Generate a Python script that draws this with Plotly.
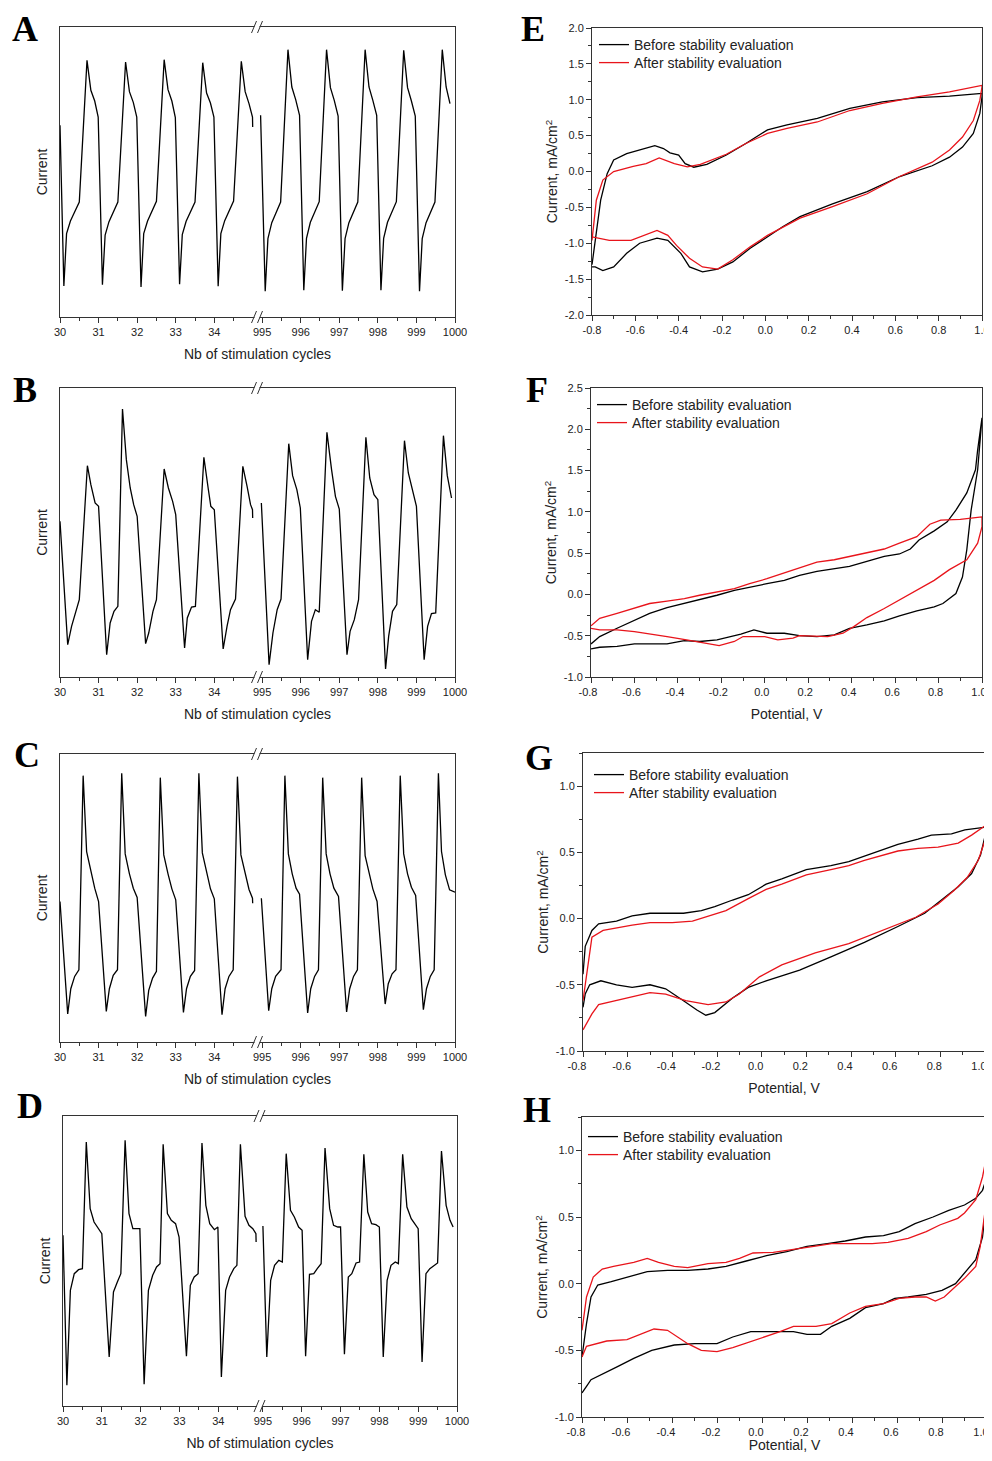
import plotly.graph_objects as go

W, H = 992, 1461          # reference picture size
OFF = 8                   # page body margin of the html page
FW, FH = W - OFF, H - 2 * OFF

# ---------------- stimulation traces (A-D) ----------------
a_cycle = [30.00, 30.03,
    30.10, 30.17, 30.27, 30.37, 30.50, 30.70, 30.80, 30.90, 30.99,
    31.10, 31.17, 31.27, 31.37, 31.50, 31.70, 31.80, 31.90, 31.99,
    32.10, 32.17, 32.27, 32.37, 32.50, 32.70, 32.80, 32.90, 32.99,
    33.10, 33.17, 33.27, 33.37, 33.50, 33.70, 33.80, 33.90, 33.99,
    34.10, 34.17, 34.27, 34.37, 34.50, 34.70, 34.80, 34.90, 34.99, 34.995,
    None,
    994.96,
    995.08, 995.15, 995.25, 995.35, 995.48, 995.67, 995.77, 995.87, 995.97,
    996.08, 996.15, 996.25, 996.35, 996.48, 996.67, 996.77, 996.87, 996.97,
    997.08, 997.15, 997.25, 997.35, 997.48, 997.67, 997.77, 997.87, 997.97,
    998.08, 998.15, 998.25, 998.35, 998.48, 998.67, 998.77, 998.87, 998.97,
    999.08, 999.15, 999.25, 999.35, 999.48, 999.67, 999.77, 999.87]
a_current = [575, 430,
    93, 250, 288, 313, 345, 770, 680, 648, 600,
    97, 246, 286, 312, 345, 765, 676, 644, 600,
    90, 250, 288, 314, 347, 772, 682, 648, 598,
    98, 247, 287, 312, 345, 763, 672, 642, 600,
    92, 250, 289, 315, 348, 767, 676, 640, 600, 570,
    None,
    605,
    77, 235, 283, 310, 345, 802, 690, 652, 605,
    80, 236, 284, 311, 346, 802, 688, 650, 603,
    79, 235, 283, 312, 345, 802, 690, 650, 605,
    80, 236, 284, 311, 346, 800, 688, 648, 603,
    77, 235, 283, 310, 345, 802, 690, 640]

b_cycle = [30.00,
    30.20, 30.30, 30.41, 30.50, 30.71, 30.80, 30.91, 31.00,
    31.21, 31.30, 31.40, 31.50, 31.62, 31.72, 31.82, 31.91, 32.00,
    32.22, 32.30, 32.41, 32.50, 32.70, 32.81, 32.92, 33.00,
    33.23, 33.30, 33.41, 33.51, 33.73, 33.84, 33.91, 34.00,
    34.23, 34.33, 34.42, 34.55, 34.74, 34.85, 34.94, 34.99, 34.995,
    None,
    994.98,
    995.18, 995.28, 995.39, 995.49, 995.69, 995.79, 995.90, 995.99,
    996.18, 996.28, 996.38, 996.48, 996.68, 996.80, 996.90, 997.00,
    997.20, 997.28, 997.39, 997.50, 997.69, 997.79, 997.90, 998.00,
    998.20, 998.28, 998.38, 998.49, 998.69, 998.79, 998.90, 999.00,
    999.20, 999.29, 999.39, 999.50, 999.70, 999.80, 999.91]
b_current = [467,
    97, 152, 192, 232, 634, 577, 522, 512,
    67, 162, 197, 212, 804, 652, 567, 517, 482,
    100, 132, 197, 232, 624, 567, 527, 487,
    87, 177, 210, 212, 659, 567, 512, 502,
    84, 152, 202, 234, 632, 572, 517, 502, 477,
    None,
    522,
    37, 132, 202, 234, 700, 604, 562, 507,
    52, 167, 202, 194, 734, 622, 542, 504,
    67, 137, 172, 232, 719, 597, 547, 532,
    24, 122, 197, 217, 709, 612, 562, 512,
    52, 152, 190, 192, 724, 604, 537]

c_cycle = [30.00,
    30.20, 30.28, 30.38, 30.49, 30.60, 30.69, 30.80, 30.90, 31.00,
    31.20, 31.28, 31.38, 31.49, 31.60, 31.69, 31.80, 31.90, 32.00,
    32.22, 32.30, 32.40, 32.50, 32.60, 32.69, 32.80, 32.90, 33.00,
    33.20, 33.28, 33.38, 33.49, 33.60, 33.69, 33.80, 33.90, 34.00,
    34.20, 34.28, 34.38, 34.49, 34.60, 34.69, 34.80, 34.90, 34.99, 34.995,
    None,
    994.98,
    995.17, 995.25, 995.35, 995.49, 995.59, 995.68, 995.78, 995.88, 995.97,
    996.18, 996.26, 996.36, 996.46, 996.57, 996.66, 996.76, 996.86, 996.98,
    997.19, 997.27, 997.37, 997.47, 997.58, 997.67, 997.77, 997.87, 997.98,
    998.19, 998.27, 998.37, 998.47, 998.58, 998.67, 998.77, 998.87, 998.98,
    999.18, 999.26, 999.36, 999.46, 999.57, 999.65, 999.75, 999.86, 1000.00]
c_current = [422,
    84, 160, 197, 217, 800, 572, 515, 462, 422,
    92, 160, 200, 217, 807, 565, 505, 462, 434,
    77, 155, 192, 212, 794, 562, 505, 460, 427,
    89, 160, 197, 215, 807, 568, 508, 460, 430,
    82, 160, 197, 217, 797, 562, 505, 458, 432, 417,
    None,
    432,
    94, 160, 197, 217, 800, 565, 505, 462, 444,
    87, 160, 197, 217, 794, 565, 505, 462, 437,
    90, 160, 197, 217, 794, 560, 505, 460, 422,
    114, 175, 205, 217, 800, 565, 505, 465, 440,
    97, 160, 197, 217, 807, 572, 502, 457, 450]

d_cycle = [30.00,
    30.10, 30.19, 30.29, 30.40, 30.50, 30.60, 30.70, 30.80, 30.91, 31.00,
    31.19, 31.30, 31.40, 31.49, 31.60, 31.70, 31.80, 31.98,
    32.09, 32.20, 32.31, 32.41, 32.50, 32.58, 32.69, 32.79, 32.90, 32.99,
    33.18, 33.28, 33.38, 33.48, 33.58, 33.68, 33.78, 33.90, 33.99,
    34.08, 34.19, 34.29, 34.40, 34.48, 34.57, 34.69, 34.79, 34.89, 34.97, 34.975,
    None,
    995.00,
    995.10, 995.20, 995.30, 995.41, 995.50, 995.60, 995.71, 995.81, 995.92, 996.01,
    996.10, 996.20, 996.31, 996.40, 996.50, 996.60, 996.72, 996.82, 996.93, 997.00,
    997.10, 997.20, 997.29, 997.40, 997.49, 997.60, 997.70, 997.80, 997.91, 998.00,
    998.10, 998.20, 998.30, 998.41, 998.49, 998.60, 998.71, 998.82, 998.90, 999.00,
    999.10, 999.20, 999.30, 999.42, 999.50, 999.60, 999.72, 999.82, 999.90]
d_current = [512,
    62, 347, 397, 409, 412, 792, 592, 552, 532, 517,
    147, 342, 372, 397, 797, 577, 532, 532,
    65, 347, 392, 417, 427, 785, 577, 557, 547, 507,
    149, 362, 387, 397, 789, 602, 547, 529, 537,
    87, 347, 387, 412, 422, 785, 569, 542, 532, 517, 492,
    None,
    540,
    147, 377, 422, 437, 432, 757, 587, 567, 537, 527,
    149, 395, 397, 412, 427, 774, 592, 542, 537, 537,
    155, 387, 397, 429, 432, 755, 582, 547, 544, 537,
    147, 377, 422, 432, 427, 755, 597, 562, 547, 532,
    132, 397, 412, 422, 429, 765, 602, 557, 537]

cycle_ticks = [30, 31, 32, 33, 34, 995, 996, 997, 998, 999, 1000]
cycle_minor = [30.5, 31.5, 32.5, 33.5, 34.5, 995.5, 996.5, 997.5, 998.5, 999.5]

# ---------------- cyclic voltammograms (E-H) ----------------
potential_ticks = [-0.8, -0.6, -0.4, -0.2, 0.0, 0.2, 0.4, 0.6, 0.8, 1.0]
e_current_ticks = [-2.0, -1.5, -1.0, -0.5, 0.0, 0.5, 1.0, 1.5, 2.0]
f_current_ticks = [-1.0, -0.5, 0.0, 0.5, 1.0, 1.5, 2.0, 2.5]
gh_current_ticks = [-1.0, -0.5, 0.0, 0.5, 1.0]

e_pot_before = [-0.80, -0.76, -0.73, -0.70, -0.64, -0.58, -0.51, -0.47, -0.44, -0.40, -0.37, -0.33, -0.27, -0.18,
    -0.09, 0.01, 0.10, 0.24, 0.39, 0.54, 0.70, 0.85, 0.99, 1.00,
    1.00, 0.99, 0.96, 0.91, 0.85, 0.77, 0.62, 0.47, 0.31, 0.16, 0.08, 0.01, -0.07, -0.15, -0.22, -0.29,
    -0.35, -0.39, -0.45, -0.50, -0.58, -0.64, -0.70, -0.75, -0.785, -0.80]
e_cur_before = [-1.30, -0.40, -0.03, 0.16, 0.25, 0.30, 0.36, 0.32, 0.26, 0.23, 0.11, 0.06, 0.10, 0.23,
    0.39, 0.58, 0.65, 0.74, 0.88, 0.97, 1.03, 1.05, 1.08, 1.09,
    1.04, 0.81, 0.53, 0.34, 0.20, 0.08, -0.07, -0.28, -0.45, -0.63, -0.77, -0.91, -1.07, -1.26, -1.36, -1.40,
    -1.33, -1.14, -0.96, -0.93, -1.00, -1.14, -1.33, -1.38, -1.33, -1.33]
e_pot_after = [-0.80, -0.78, -0.75, -0.70, -0.61, -0.55, -0.49, -0.42, -0.36, -0.30, -0.18, -0.09, 0.01, 0.10,
    0.24, 0.39, 0.54, 0.70, 0.85, 1.00,
    1.00, 0.99, 0.96, 0.91, 0.85, 0.77, 0.62, 0.47, 0.31, 0.16, 0.01, -0.07, -0.15, -0.22, -0.29, -0.35,
    -0.41, -0.45, -0.50, -0.56, -0.62, -0.72, -0.78, -0.80]
e_cur_after = [-0.96, -0.40, -0.12, 0.00, 0.07, 0.11, 0.19, 0.11, 0.065, 0.10, 0.24, 0.39, 0.53, 0.60,
    0.69, 0.85, 0.95, 1.04, 1.11, 1.20,
    1.18, 0.99, 0.71, 0.48, 0.30, 0.13, -0.07, -0.31, -0.49, -0.65, -0.89, -1.05, -1.23, -1.36, -1.33, -1.21,
    -1.03, -0.89, -0.82, -0.89, -0.96, -0.96, -0.93, -0.91]

f_pot_before = [-0.80, -0.76, -0.68, -0.60, -0.53, -0.45, -0.37, -0.30, -0.22, -0.14, -0.07, 0.01, 0.09, 0.16,
    0.24, 0.32, 0.39, 0.47, 0.55, 0.62, 0.67, 0.71, 0.78, 0.84, 0.88, 0.93, 0.97, 0.98, 1.00,
    0.98, 0.95, 0.93, 0.91, 0.88, 0.82, 0.78, 0.70, 0.62, 0.55, 0.47, 0.39, 0.32, 0.24, 0.16, 0.09, 0.01,
    -0.05, -0.11, -0.22, -0.30, -0.37, -0.45, -0.53, -0.60, -0.68, -0.76, -0.80]
f_cur_before = [-0.60, -0.51, -0.41, -0.31, -0.23, -0.16, -0.11, -0.06, -0.01, 0.05, 0.09, 0.13, 0.17, 0.23,
    0.28, 0.31, 0.34, 0.40, 0.46, 0.49, 0.55, 0.66, 0.77, 0.88, 1.02, 1.23, 1.51, 1.75, 2.14,
    1.51, 1.02, 0.54, 0.21, 0.01, -0.11, -0.15, -0.20, -0.26, -0.32, -0.37, -0.41, -0.49, -0.51, -0.50, -0.47, -0.47,
    -0.43, -0.48, -0.55, -0.57, -0.56, -0.60, -0.60, -0.60, -0.63, -0.64, -0.66]
f_pot_after = [-0.80, -0.76, -0.68, -0.60, -0.53, -0.45, -0.37, -0.30, -0.22, -0.14, -0.07, 0.01, 0.09, 0.16,
    0.24, 0.32, 0.39, 0.47, 0.55, 0.62, 0.70, 0.76, 0.81, 0.90, 1.00,
    1.00, 0.98, 0.93, 0.85, 0.78, 0.70, 0.62, 0.55, 0.47, 0.41, 0.36, 0.29, 0.16, 0.13, 0.06, 0.00,
    -0.10, -0.14, -0.21, -0.27, -0.36, -0.45, -0.53, -0.60, -0.68, -0.76, -0.80]
f_cur_after = [-0.38, -0.29, -0.23, -0.17, -0.11, -0.08, -0.05, -0.01, 0.03, 0.07, 0.13, 0.19, 0.26, 0.32,
    0.39, 0.42, 0.46, 0.51, 0.55, 0.62, 0.70, 0.85, 0.90, 0.91, 0.94,
    0.82, 0.62, 0.42, 0.30, 0.17, 0.05, -0.07, -0.17, -0.28, -0.39, -0.47, -0.51, -0.50, -0.53, -0.55, -0.51,
    -0.51, -0.57, -0.62, -0.59, -0.55, -0.51, -0.48, -0.45, -0.43, -0.43, -0.41]

g_pot_before = [-0.80, -0.79, -0.76, -0.73, -0.65, -0.58, -0.50, -0.44, -0.35, -0.27, -0.21, -0.13, -0.06, 0.02,
    0.09, 0.20, 0.31, 0.39, 0.46, 0.54, 0.61, 0.70, 0.76, 0.85, 0.91, 1.00,
    1.00, 0.98, 0.94, 0.88, 0.80, 0.73, 0.61, 0.46, 0.31, 0.17, 0.02, -0.06, -0.13, -0.21, -0.25, -0.29,
    -0.35, -0.43, -0.50, -0.58, -0.65, -0.72, -0.77, -0.79, -0.80]
g_cur_before = [-0.42, -0.21, -0.09, -0.04, -0.02, 0.02, 0.04, 0.04, 0.04, 0.06, 0.09, 0.14, 0.18, 0.26,
    0.30, 0.37, 0.40, 0.43, 0.47, 0.52, 0.56, 0.60, 0.63, 0.64, 0.67, 0.69,
    0.62, 0.48, 0.34, 0.24, 0.13, 0.04, -0.06, -0.18, -0.29, -0.39, -0.47, -0.52, -0.60, -0.71, -0.73, -0.69,
    -0.62, -0.53, -0.50, -0.52, -0.50, -0.47, -0.50, -0.57, -0.67]
g_pot_after = [-0.80, -0.78, -0.76, -0.71, -0.65, -0.58, -0.50, -0.40, -0.31, -0.25, -0.16, -0.06, 0.02, 0.09,
    0.20, 0.31, 0.39, 0.46, 0.54, 0.61, 0.70, 0.79, 0.88, 0.94, 1.00,
    1.00, 0.97, 0.92, 0.86, 0.79, 0.69, 0.54, 0.39, 0.24, 0.09, -0.01, -0.10, -0.16, -0.24, -0.34, -0.43,
    -0.50, -0.58, -0.65, -0.73, -0.76, -0.80]
g_cur_after = [-0.62, -0.37, -0.14, -0.09, -0.07, -0.05, -0.03, -0.03, -0.02, 0.01, 0.06, 0.15, 0.22, 0.26,
    0.33, 0.37, 0.40, 0.44, 0.48, 0.51, 0.53, 0.54, 0.57, 0.63, 0.70,
    0.59, 0.44, 0.31, 0.21, 0.11, 0.01, -0.09, -0.19, -0.26, -0.35, -0.44, -0.57, -0.63, -0.65, -0.62, -0.57,
    -0.56, -0.59, -0.62, -0.65, -0.72, -0.84]

h_pot_before = [-0.80, -0.78, -0.76, -0.73, -0.67, -0.60, -0.51, -0.42, -0.33, -0.24, -0.16, -0.07, 0.02, 0.11,
    0.20, 0.29, 0.37, 0.46, 0.54, 0.61, 0.68, 0.76, 0.83, 0.90, 0.95, 0.98, 1.00,
    1.00, 0.98, 0.95, 0.90, 0.86, 0.80, 0.73, 0.65, 0.59, 0.54, 0.46, 0.39, 0.31, 0.26, 0.20, 0.14, 0.05,
    -0.05, -0.13, -0.20, -0.30, -0.39, -0.49, -0.57, -0.64, -0.71, -0.76, -0.78, -0.80]
h_cur_before = [-0.55, -0.30, -0.10, -0.01, 0.015, 0.05, 0.09, 0.10, 0.10, 0.11, 0.13, 0.17, 0.21, 0.24,
    0.28, 0.30, 0.32, 0.35, 0.36, 0.39, 0.45, 0.50, 0.55, 0.59, 0.64, 0.70, 0.80,
    0.65, 0.35, 0.18, 0.08, 0.00, -0.05, -0.08, -0.10, -0.11, -0.15, -0.18, -0.26, -0.32, -0.38, -0.38, -0.36, -0.36,
    -0.36, -0.40, -0.45, -0.45, -0.46, -0.50, -0.56, -0.62, -0.68, -0.72, -0.77, -0.82]
h_pot_after = [-0.80, -0.78, -0.75, -0.71, -0.66, -0.57, -0.51, -0.46, -0.39, -0.33, -0.24, -0.16, -0.10, -0.04,
    0.05, 0.14, 0.23, 0.31, 0.40, 0.49, 0.56, 0.65, 0.73, 0.79, 0.87, 0.90, 0.95, 0.98, 1.00,
    1.00, 0.97, 0.95, 0.90, 0.86, 0.81, 0.77, 0.73, 0.68, 0.61, 0.54, 0.46, 0.39, 0.31, 0.24, 0.14, 0.08,
    -0.01, -0.13, -0.20, -0.27, -0.33, -0.42, -0.48, -0.54, -0.60, -0.69, -0.74, -0.78, -0.80]
h_cur_after = [-0.35, -0.10, 0.05, 0.11, 0.13, 0.16, 0.19, 0.16, 0.13, 0.12, 0.15, 0.16, 0.19, 0.23,
    0.235, 0.26, 0.28, 0.30, 0.30, 0.30, 0.31, 0.34, 0.39, 0.44, 0.49, 0.53, 0.63, 0.80, 0.97,
    0.65, 0.28, 0.13, 0.04, -0.02, -0.10, -0.13, -0.10, -0.10, -0.11, -0.15, -0.17, -0.22, -0.30, -0.32, -0.32, -0.36,
    -0.41, -0.48, -0.51, -0.50, -0.45, -0.35, -0.34, -0.38, -0.42, -0.43, -0.45, -0.47, -0.55]

series_names = ["Before stability evaluation", "After stability evaluation"]
panel_letters = ["A", "B", "C", "D", "E", "F", "G", "H"]

# ---------------- layout helpers (reference pixel -> paper) ----------------
SANS = "Liberation Sans, Arial, sans-serif"
INK = "#222222"


def px_x(p):
    return (p - OFF) / FW


def px_y(p):
    return 1 - (p - OFF) / FH


def dx(l, r):
    return [px_x(l), px_x(r)]


def dy(t, b):
    return [px_y(b), px_y(t)]


def brk(vals, gap):
    out = []
    for v in vals:
        if v is None:
            out.append(None)
        elif v < 500:
            out.append(v)
        else:
            out.append(v - 995 + 35 + gap)
    return out


def lbl(vals):
    return [f"{v:.1f}" for v in vals]


fig = go.Figure()

left_specs = [  # (x, y, gap, box l, r, t, b, ymax)
    (a_cycle, a_current, 0.24, 60, 455, 27, 317, 870),
    (b_cycle, b_current, 0.24, 60, 455, 388, 677, 867),
    (c_cycle, c_current, 0.24, 60, 455, 754, 1042, 865),
    (d_cycle, d_current, 0.15, 63, 457, 1116, 1406, 870),
]

shapes = []
for i, (xs, ys, gap, l, r, t, b, ymax) in enumerate(left_specs):
    n = i + 1
    xa = "x" if n == 1 else f"x{n}"
    ya = "y" if n == 1 else f"y{n}"
    fig.add_trace(go.Scatter(x=brk(xs, gap), y=ys, mode="lines",
                             line=dict(color="black", width=1.3),
                             xaxis=xa, yaxis=ya, showlegend=False,
                             connectgaps=False))
    ax_key = "xaxis" if n == 1 else f"xaxis{n}"
    ay_key = "yaxis" if n == 1 else f"yaxis{n}"
    fig.layout[ax_key] = dict(
        domain=dx(l, r), anchor=ya, range=[30, 40 + gap], automargin=False,
        tickmode="array", tickvals=brk(cycle_ticks, gap),
        ticktext=[str(v) for v in cycle_ticks], ticklabeloverflow="allow",
        ticks="outside", ticklen=5, tickwidth=1, tickcolor="#333",
        minor=dict(tickmode="array", tickvals=brk(cycle_minor, gap),
                   ticks="outside", ticklen=3, tickcolor="#333"),
        showline=True, linecolor="#333", linewidth=1, mirror=True,
        showgrid=False, zeroline=False,
        tickfont=dict(family=SANS, size=11, color=INK),
        title=dict(text="Nb of stimulation cycles", standoff=11,
                   font=dict(family=SANS, size=14, color=INK)),
    )
    fig.layout[ay_key] = dict(
        domain=dy(t, b), anchor=xa, range=[0, ymax], automargin=False,
        showticklabels=False, ticks="",
        showline=True, linecolor="#333", linewidth=1, mirror=True,
        showgrid=False, zeroline=False,
        title=dict(text="Current", standoff=8,
                   font=dict(family=SANS, size=14, color=INK)),
    )
    xc = 35 + gap / 2
    for yanc in (0, 1):
        shapes.append(dict(type="rect", xref=xa, yref=f"{ya} domain",
                           xsizemode="pixel", ysizemode="pixel",
                           xanchor=xc, yanchor=yanc,
                           x0=-3, x1=2, y0=-3, y1=3,
                           fillcolor="white", line=dict(width=0), layer="above"))
        for off in (-6, 0):
            shapes.append(dict(type="line", xref=xa, yref=f"{ya} domain",
                               xsizemode="pixel", ysizemode="pixel",
                               xanchor=xc, yanchor=yanc,
                               x0=off, x1=off + 5, y0=-6, y1=6,
                               line=dict(color="#333", width=1), layer="above"))

right_specs = [  # data, box l,r,t,b, y range, y ticks, x title, legend line-start x, legend ys, label shift
    (e_pot_before, e_cur_before, e_pot_after, e_cur_after, 592, 982, 28, 315, [-2, 2], e_current_ticks,
     None, 600, 44, 62, 0),
    (f_pot_before, f_cur_before, f_pot_after, f_cur_after, 591, 982, 388, 677, [-1, 2.5], f_current_ticks,
     "Potential, V", 598, 404, 422, -3),
    (g_pot_before, g_cur_before, g_pot_after, g_cur_after, 583, 985, 753, 1051, [-1, 1.25], gh_current_ticks,
     "Potential, V", 595, 774, 792, -6),
    (h_pot_before, h_cur_before, h_pot_after, h_cur_after, 582, 987, 1117, 1417, [-1, 1.25], gh_current_ticks,
     "Potential, V", 589, 1136, 1154, -6),
]

leg_count = 0
for j, spec in enumerate(right_specs):
    (xb, yb, xa_, ya_, l, r, t, b, yr, yticks, xtitle, lgx, ty1, ty2, shift) = spec
    n = j + 5
    xa = f"x{n}"
    ya = f"y{n}"
    for (xs, ys, name, color, ty) in ((xb, yb, series_names[0], "black", ty1),
                                      (xa_, ya_, series_names[1], "#e8141b", ty2)):
        leg_count += 1
        leg = "legend" if leg_count == 1 else f"legend{leg_count}"
        fig.add_trace(go.Scatter(x=xs, y=ys, mode="lines", name=name,
                                 line=dict(color=color, width=1.3),
                                 xaxis=xa, yaxis=ya, legend=leg))
        fig.layout[leg] = dict(
            x=px_x(lgx - 6), y=px_y(ty - 15), xanchor="left", yanchor="top",
            bgcolor="rgba(0,0,0,0)", borderwidth=0,
            font=dict(family=SANS, size=14, color=INK),
        )
    xaxis = dict(
        domain=dx(l, r), anchor=ya, range=[-0.8, 1.0], automargin=False,
        tickmode="array", tickvals=potential_ticks, ticktext=lbl(potential_ticks),
        ticklabeloverflow="allow", ticklabelshift=shift,
        ticks="outside", ticklen=5, tickwidth=1, tickcolor="#333",
        minor=dict(tickmode="linear", dtick=0.1, tick0=0, ticks="outside", ticklen=3, tickcolor="#333"),
        showline=True, linecolor="#333", linewidth=1, mirror=True,
        showgrid=False, zeroline=False,
        tickfont=dict(family=SANS, size=11, color=INK),
    )
    if xtitle:
        xaxis["title"] = dict(text=xtitle, standoff=11,
                              font=dict(family=SANS, size=14, color=INK))
    fig.layout[f"xaxis{n}"] = xaxis
    fig.layout[f"yaxis{n}"] = dict(
        domain=dy(t, b), anchor=xa, range=yr, automargin=False,
        tickmode="array", tickvals=yticks, ticktext=lbl(yticks),
        ticklabeloverflow="allow",
        ticks="outside", ticklen=5, tickwidth=1, tickcolor="#333",
        minor=dict(tickmode="linear", dtick=0.25, tick0=0, ticks="outside", ticklen=3, tickcolor="#333"),
        showline=True, linecolor="#333", linewidth=1, mirror=True,
        showgrid=False, zeroline=False,
        tickfont=dict(family=SANS, size=11, color=INK),
        title=dict(text="Current, mA/cm<sup>2</sup>", standoff=3,
                   font=dict(family=SANS, size=14, color=INK)),
    )

letter_pos = [(25, 29), (25, 390), (27, 755), (30, 1106),
              (533, 29), (537, 390), (539, 758), (537, 1110)]
annotations = []
for letter, (px, py) in zip(panel_letters, letter_pos):
    annotations.append(dict(text=f"<b>{letter}</b>", x=px_x(px), y=px_y(py),
                            xref="paper", yref="paper", showarrow=False,
                            xanchor="center", yanchor="middle",
                            font=dict(family="Liberation Serif, Times New Roman, serif",
                                      size=36, color="black")))

fig.update_layout(
    template="none",
    width=FW, height=FH, margin=dict(l=0, r=0, t=0, b=0, pad=0, autoexpand=False),
    paper_bgcolor="white", plot_bgcolor="white",
    shapes=shapes, annotations=annotations, showlegend=True,
)

fig.write_html("out.html")
